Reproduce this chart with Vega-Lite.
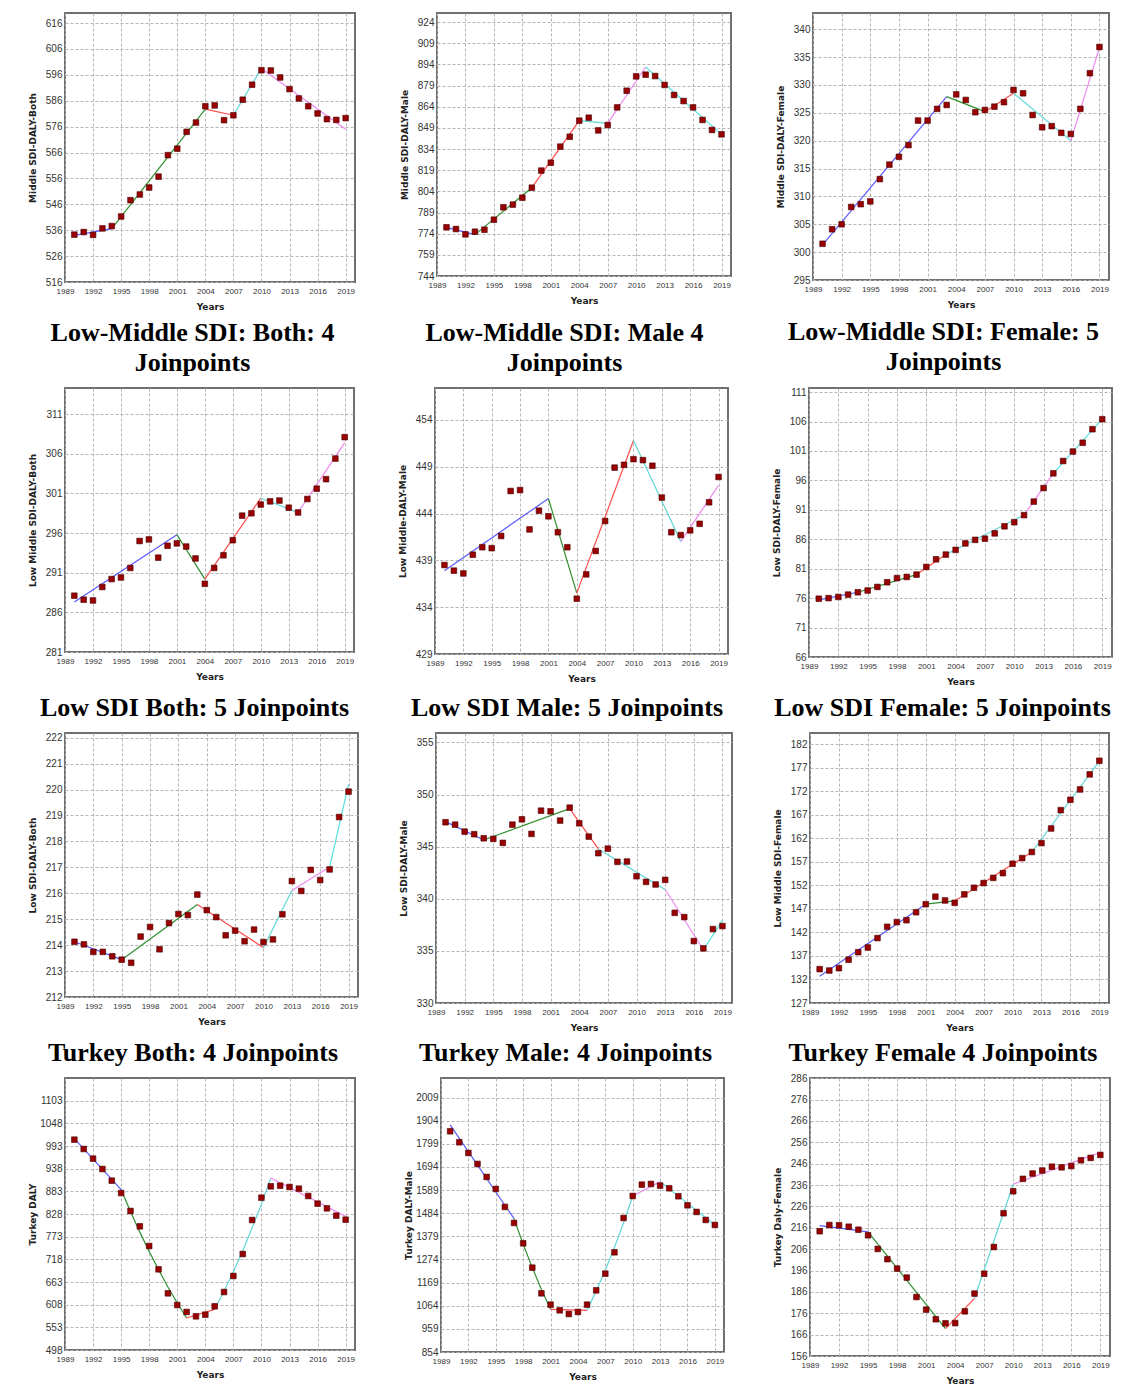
{
"$schema": "https://vega.github.io/schema/vega-lite/v6.json",
"background": "white",
"padding": {"left": 27, "top": 12, "right": 2, "bottom": 0},
"config": {
 "view": {"stroke": "#707070", "strokeWidth": 2},
 "axis": {"grid": true, "gridColor": "#b5b5b5", "gridDash": [3, 2], "gridWidth": 1, "domain": false, "ticks": false, "labelOverlap": false, "labelFlush": false,
  "labelFont": "Liberation Sans Narrow, Liberation Sans, sans-serif", "labelColor": "#333333",
  "titleFont": "DejaVu Sans", "titleFontWeight": "bold", "titleFontSize": 9, "titleColor": "#222222"},
 "axisX": {"labelFontSize": 8, "labelPadding": 5, "titlePadding": 7},
 "axisY": {"labelFontSize": 10, "labelPadding": 3, "minExtent": 24, "maxExtent": 24, "titlePadding": 4, "format": "d"},
 "title": {"font": "Liberation Serif", "fontSize": 26, "fontWeight": "bold", "color": "#000000", "anchor": "middle", "frame": "group", "dx": -17, "lineHeight": 30, "offset": 12}
},
"datasets": {
"pts": [
{"p":1,"year":1990,"v":534.3},{"p":1,"year":1991,"v":535.3},{"p":1,"year":1992,"v":534.2},{"p":1,"year":1993,"v":536.7},{"p":1,"year":1994,"v":537.6},{"p":1,"year":1995,"v":541.3},{"p":1,"year":1996,"v":547.6},{"p":1,"year":1997,"v":549.8},{"p":1,"year":1998,"v":552.5},{"p":1,"year":1999,"v":556.7},{"p":1,"year":2000,"v":565.0},{"p":1,"year":2001,"v":567.5},{"p":1,"year":2002,"v":574.0},{"p":1,"year":2003,"v":577.6},{"p":1,"year":2004,"v":583.9},{"p":1,"year":2005,"v":584.2},{"p":1,"year":2006,"v":578.5},{"p":1,"year":2007,"v":580.4},{"p":1,"year":2008,"v":586.4},{"p":1,"year":2009,"v":592.2},{"p":1,"year":2010,"v":597.8},{"p":1,"year":2011,"v":597.7},{"p":1,"year":2012,"v":595.0},{"p":1,"year":2013,"v":590.5},{"p":1,"year":2014,"v":586.9},{"p":1,"year":2015,"v":583.9},{"p":1,"year":2016,"v":581.1},{"p":1,"year":2017,"v":578.9},{"p":1,"year":2018,"v":578.6},{"p":1,"year":2019,"v":579.3},
{"p":2,"year":1990,"v":778.5},{"p":2,"year":1991,"v":777.3},{"p":2,"year":1992,"v":773.5},{"p":2,"year":1993,"v":775.4},{"p":2,"year":1994,"v":776.8},{"p":2,"year":1995,"v":783.9},{"p":2,"year":1996,"v":792.7},{"p":2,"year":1997,"v":794.6},{"p":2,"year":1998,"v":799.5},{"p":2,"year":1999,"v":806.6},{"p":2,"year":2000,"v":818.7},{"p":2,"year":2001,"v":824.3},{"p":2,"year":2002,"v":835.7},{"p":2,"year":2003,"v":842.7},{"p":2,"year":2004,"v":854.1},{"p":2,"year":2005,"v":856.2},{"p":2,"year":2006,"v":847.2},{"p":2,"year":2007,"v":851.0},{"p":2,"year":2008,"v":863.5},{"p":2,"year":2009,"v":875.3},{"p":2,"year":2010,"v":885.5},{"p":2,"year":2011,"v":886.7},{"p":2,"year":2012,"v":885.7},{"p":2,"year":2013,"v":879.4},{"p":2,"year":2014,"v":872.3},{"p":2,"year":2015,"v":868.0},{"p":2,"year":2016,"v":863.5},{"p":2,"year":2017,"v":854.6},{"p":2,"year":2018,"v":847.5},{"p":2,"year":2019,"v":844.4},
{"p":3,"year":1990,"v":301.5},{"p":3,"year":1991,"v":304.1},{"p":3,"year":1992,"v":305.0},{"p":3,"year":1993,"v":308.1},{"p":3,"year":1994,"v":308.6},{"p":3,"year":1995,"v":309.1},{"p":3,"year":1996,"v":313.1},{"p":3,"year":1997,"v":315.7},{"p":3,"year":1998,"v":317.1},{"p":3,"year":1999,"v":319.2},{"p":3,"year":2000,"v":323.6},{"p":3,"year":2001,"v":323.6},{"p":3,"year":2002,"v":325.7},{"p":3,"year":2003,"v":326.4},{"p":3,"year":2004,"v":328.3},{"p":3,"year":2005,"v":327.3},{"p":3,"year":2006,"v":325.1},{"p":3,"year":2007,"v":325.5},{"p":3,"year":2008,"v":326.1},{"p":3,"year":2009,"v":326.9},{"p":3,"year":2010,"v":329.1},{"p":3,"year":2011,"v":328.5},{"p":3,"year":2012,"v":324.6},{"p":3,"year":2013,"v":322.4},{"p":3,"year":2014,"v":322.6},{"p":3,"year":2015,"v":321.4},{"p":3,"year":2016,"v":321.2},{"p":3,"year":2017,"v":325.7},{"p":3,"year":2018,"v":332.1},{"p":3,"year":2019,"v":336.8},
{"p":4,"year":1990,"v":288.1},{"p":4,"year":1991,"v":287.6},{"p":4,"year":1992,"v":287.5},{"p":4,"year":1993,"v":289.2},{"p":4,"year":1994,"v":290.2},{"p":4,"year":1995,"v":290.4},{"p":4,"year":1996,"v":291.6},{"p":4,"year":1997,"v":295.0},{"p":4,"year":1998,"v":295.2},{"p":4,"year":1999,"v":292.9},{"p":4,"year":2000,"v":294.4},{"p":4,"year":2001,"v":294.7},{"p":4,"year":2002,"v":294.3},{"p":4,"year":2003,"v":292.8},{"p":4,"year":2004,"v":289.6},{"p":4,"year":2005,"v":291.6},{"p":4,"year":2006,"v":293.2},{"p":4,"year":2007,"v":295.1},{"p":4,"year":2008,"v":298.2},{"p":4,"year":2009,"v":298.5},{"p":4,"year":2010,"v":299.6},{"p":4,"year":2011,"v":300.0},{"p":4,"year":2012,"v":300.1},{"p":4,"year":2013,"v":299.2},{"p":4,"year":2014,"v":298.6},{"p":4,"year":2015,"v":300.3},{"p":4,"year":2016,"v":301.6},{"p":4,"year":2017,"v":302.8},{"p":4,"year":2018,"v":305.4},{"p":4,"year":2019,"v":308.1},
{"p":5,"year":1990,"v":438.5},{"p":5,"year":1991,"v":437.9},{"p":5,"year":1992,"v":437.6},{"p":5,"year":1993,"v":439.6},{"p":5,"year":1994,"v":440.4},{"p":5,"year":1995,"v":440.3},{"p":5,"year":1996,"v":441.6},{"p":5,"year":1997,"v":446.4},{"p":5,"year":1998,"v":446.5},{"p":5,"year":1999,"v":442.3},{"p":5,"year":2000,"v":444.3},{"p":5,"year":2001,"v":443.7},{"p":5,"year":2002,"v":442.0},{"p":5,"year":2003,"v":440.4},{"p":5,"year":2004,"v":434.9},{"p":5,"year":2005,"v":437.5},{"p":5,"year":2006,"v":440.0},{"p":5,"year":2007,"v":443.2},{"p":5,"year":2008,"v":448.9},{"p":5,"year":2009,"v":449.2},{"p":5,"year":2010,"v":449.8},{"p":5,"year":2011,"v":449.7},{"p":5,"year":2012,"v":449.1},{"p":5,"year":2013,"v":445.7},{"p":5,"year":2014,"v":442.0},{"p":5,"year":2015,"v":441.7},{"p":5,"year":2016,"v":442.2},{"p":5,"year":2017,"v":442.9},{"p":5,"year":2018,"v":445.2},{"p":5,"year":2019,"v":447.9},
{"p":6,"year":1990,"v":75.9},{"p":6,"year":1991,"v":76.0},{"p":6,"year":1992,"v":76.2},{"p":6,"year":1993,"v":76.6},{"p":6,"year":1994,"v":77.0},{"p":6,"year":1995,"v":77.3},{"p":6,"year":1996,"v":77.9},{"p":6,"year":1997,"v":78.7},{"p":6,"year":1998,"v":79.4},{"p":6,"year":1999,"v":79.6},{"p":6,"year":2000,"v":80.0},{"p":6,"year":2001,"v":81.3},{"p":6,"year":2002,"v":82.6},{"p":6,"year":2003,"v":83.4},{"p":6,"year":2004,"v":84.2},{"p":6,"year":2005,"v":85.3},{"p":6,"year":2006,"v":85.9},{"p":6,"year":2007,"v":86.1},{"p":6,"year":2008,"v":87.0},{"p":6,"year":2009,"v":88.2},{"p":6,"year":2010,"v":88.9},{"p":6,"year":2011,"v":90.1},{"p":6,"year":2012,"v":92.4},{"p":6,"year":2013,"v":94.7},{"p":6,"year":2014,"v":97.2},{"p":6,"year":2015,"v":99.3},{"p":6,"year":2016,"v":100.9},{"p":6,"year":2017,"v":102.4},{"p":6,"year":2018,"v":104.7},{"p":6,"year":2019,"v":106.4},
{"p":7,"year":1990,"v":214.13},{"p":7,"year":1991,"v":214.03},{"p":7,"year":1992,"v":213.74},{"p":7,"year":1993,"v":213.74},{"p":7,"year":1994,"v":213.57},{"p":7,"year":1995,"v":213.44},{"p":7,"year":1996,"v":213.32},{"p":7,"year":1997,"v":214.33},{"p":7,"year":1998,"v":214.70},{"p":7,"year":1999,"v":213.84},{"p":7,"year":2000,"v":214.85},{"p":7,"year":2001,"v":215.20},{"p":7,"year":2002,"v":215.16},{"p":7,"year":2003,"v":215.95},{"p":7,"year":2004,"v":215.35},{"p":7,"year":2005,"v":215.08},{"p":7,"year":2006,"v":214.38},{"p":7,"year":2007,"v":214.56},{"p":7,"year":2008,"v":214.15},{"p":7,"year":2009,"v":214.60},{"p":7,"year":2010,"v":214.12},{"p":7,"year":2011,"v":214.22},{"p":7,"year":2012,"v":215.19},{"p":7,"year":2013,"v":216.47},{"p":7,"year":2014,"v":216.09},{"p":7,"year":2015,"v":216.90},{"p":7,"year":2016,"v":216.51},{"p":7,"year":2017,"v":216.92},{"p":7,"year":2018,"v":218.94},{"p":7,"year":2019,"v":219.92},
{"p":8,"year":1990,"v":347.34},{"p":8,"year":1991,"v":347.11},{"p":8,"year":1992,"v":346.44},{"p":8,"year":1993,"v":346.19},{"p":8,"year":1994,"v":345.80},{"p":8,"year":1995,"v":345.74},{"p":8,"year":1996,"v":345.36},{"p":8,"year":1997,"v":347.11},{"p":8,"year":1998,"v":347.62},{"p":8,"year":1999,"v":346.22},{"p":8,"year":2000,"v":348.45},{"p":8,"year":2001,"v":348.39},{"p":8,"year":2002,"v":347.50},{"p":8,"year":2003,"v":348.74},{"p":8,"year":2004,"v":347.24},{"p":8,"year":2005,"v":345.96},{"p":8,"year":2006,"v":344.37},{"p":8,"year":2007,"v":344.81},{"p":8,"year":2008,"v":343.54},{"p":8,"year":2009,"v":343.57},{"p":8,"year":2010,"v":342.16},{"p":8,"year":2011,"v":341.62},{"p":8,"year":2012,"v":341.37},{"p":8,"year":2013,"v":341.81},{"p":8,"year":2014,"v":338.65},{"p":8,"year":2015,"v":338.24},{"p":8,"year":2016,"v":335.94},{"p":8,"year":2017,"v":335.24},{"p":8,"year":2018,"v":337.09},{"p":8,"year":2019,"v":337.38},
{"p":9,"year":1990,"v":134.2},{"p":9,"year":1991,"v":133.9},{"p":9,"year":1992,"v":134.4},{"p":9,"year":1993,"v":136.2},{"p":9,"year":1994,"v":137.8},{"p":9,"year":1995,"v":138.8},{"p":9,"year":1996,"v":140.8},{"p":9,"year":1997,"v":143.2},{"p":9,"year":1998,"v":144.2},{"p":9,"year":1999,"v":144.6},{"p":9,"year":2000,"v":146.3},{"p":9,"year":2001,"v":148.0},{"p":9,"year":2002,"v":149.6},{"p":9,"year":2003,"v":148.8},{"p":9,"year":2004,"v":148.3},{"p":9,"year":2005,"v":150.1},{"p":9,"year":2006,"v":151.5},{"p":9,"year":2007,"v":152.5},{"p":9,"year":2008,"v":153.6},{"p":9,"year":2009,"v":154.6},{"p":9,"year":2010,"v":156.6},{"p":9,"year":2011,"v":157.8},{"p":9,"year":2012,"v":159.1},{"p":9,"year":2013,"v":161.0},{"p":9,"year":2014,"v":164.1},{"p":9,"year":2015,"v":168.0},{"p":9,"year":2016,"v":170.2},{"p":9,"year":2017,"v":172.4},{"p":9,"year":2018,"v":175.6},{"p":9,"year":2019,"v":178.5},
{"p":10,"year":1990,"v":1008.4},{"p":10,"year":1991,"v":985.7},{"p":10,"year":1992,"v":962.3},{"p":10,"year":1993,"v":937.2},{"p":10,"year":1994,"v":908.9},{"p":10,"year":1995,"v":878.9},{"p":10,"year":1996,"v":835.3},{"p":10,"year":1997,"v":798.1},{"p":10,"year":1998,"v":750.3},{"p":10,"year":1999,"v":693.7},{"p":10,"year":2000,"v":635.5},{"p":10,"year":2001,"v":607.2},{"p":10,"year":2002,"v":590.2},{"p":10,"year":2003,"v":579.7},{"p":10,"year":2004,"v":583.7},{"p":10,"year":2005,"v":604.0},{"p":10,"year":2006,"v":638.7},{"p":10,"year":2007,"v":677.6},{"p":10,"year":2008,"v":730.9},{"p":10,"year":2009,"v":813.4},{"p":10,"year":2010,"v":867.6},{"p":10,"year":2011,"v":895.1},{"p":10,"year":2012,"v":896.7},{"p":10,"year":2013,"v":893.5},{"p":10,"year":2014,"v":889.5},{"p":10,"year":2015,"v":871.7},{"p":10,"year":2016,"v":853.1},{"p":10,"year":2017,"v":841.7},{"p":10,"year":2018,"v":824.0},{"p":10,"year":2019,"v":814.2},
{"p":11,"year":1990,"v":1856.1},{"p":11,"year":1991,"v":1806.2},{"p":11,"year":1992,"v":1757.7},{"p":11,"year":1993,"v":1707.8},{"p":11,"year":1994,"v":1648.7},{"p":11,"year":1995,"v":1594.2},{"p":11,"year":1996,"v":1512.5},{"p":11,"year":1997,"v":1439.8},{"p":11,"year":1998,"v":1347.5},{"p":11,"year":1999,"v":1237.0},{"p":11,"year":2000,"v":1120.4},{"p":11,"year":2001,"v":1069.0},{"p":11,"year":2002,"v":1043.2},{"p":11,"year":2003,"v":1026.6},{"p":11,"year":2004,"v":1035.7},{"p":11,"year":2005,"v":1069.0},{"p":11,"year":2006,"v":1134.0},{"p":11,"year":2007,"v":1209.7},{"p":11,"year":2008,"v":1306.6},{"p":11,"year":2009,"v":1462.5},{"p":11,"year":2010,"v":1562.4},{"p":11,"year":2011,"v":1613.9},{"p":11,"year":2012,"v":1616.9},{"p":11,"year":2013,"v":1609.4},{"p":11,"year":2014,"v":1597.3},{"p":11,"year":2015,"v":1561.0},{"p":11,"year":2016,"v":1520.1},{"p":11,"year":2017,"v":1489.8},{"p":11,"year":2018,"v":1453.5},{"p":11,"year":2019,"v":1430.7},
{"p":12,"year":1990,"v":214.4},{"p":12,"year":1991,"v":217.3},{"p":12,"year":1992,"v":217.2},{"p":12,"year":1993,"v":216.5},{"p":12,"year":1994,"v":215.1},{"p":12,"year":1995,"v":212.5},{"p":12,"year":1996,"v":206.1},{"p":12,"year":1997,"v":201.3},{"p":12,"year":1998,"v":196.9},{"p":12,"year":1999,"v":192.7},{"p":12,"year":2000,"v":183.6},{"p":12,"year":2001,"v":177.7},{"p":12,"year":2002,"v":173.2},{"p":12,"year":2003,"v":171.3},{"p":12,"year":2004,"v":171.4},{"p":12,"year":2005,"v":176.9},{"p":12,"year":2006,"v":185.2},{"p":12,"year":2007,"v":194.5},{"p":12,"year":2008,"v":207.0},{"p":12,"year":2009,"v":222.8},{"p":12,"year":2010,"v":233.1},{"p":12,"year":2011,"v":238.9},{"p":12,"year":2012,"v":241.4},{"p":12,"year":2013,"v":242.8},{"p":12,"year":2014,"v":244.6},{"p":12,"year":2015,"v":244.3},{"p":12,"year":2016,"v":244.9},{"p":12,"year":2017,"v":247.6},{"p":12,"year":2018,"v":248.7},{"p":12,"year":2019,"v":250.1}
],
"fit": [
{"p":1,"s":1,"year":1990,"v":534.0},{"p":1,"s":1,"year":1994,"v":536.6},{"p":1,"s":2,"year":1994,"v":536.6},{"p":1,"s":2,"year":2004,"v":582.8},{"p":1,"s":3,"year":2004,"v":582.8},{"p":1,"s":3,"year":2007,"v":580.4},{"p":1,"s":4,"year":2007,"v":580.4},{"p":1,"s":4,"year":2010,"v":598.5},{"p":1,"s":5,"year":2010,"v":598.5},{"p":1,"s":5,"year":2019,"v":575.0},
{"p":2,"s":1,"year":1990,"v":778.5},{"p":2,"s":1,"year":1993,"v":773.3},{"p":2,"s":2,"year":1993,"v":773.3},{"p":2,"s":2,"year":1999,"v":806.6},{"p":2,"s":3,"year":1999,"v":806.6},{"p":2,"s":3,"year":2004,"v":854.1},{"p":2,"s":4,"year":2004,"v":854.1},{"p":2,"s":4,"year":2007,"v":852.2},{"p":2,"s":5,"year":2007,"v":852.2},{"p":2,"s":5,"year":2011,"v":892.1},{"p":2,"s":6,"year":2011,"v":892.1},{"p":2,"s":6,"year":2019,"v":844.4},
{"p":3,"s":1,"year":1990,"v":301.3},{"p":3,"s":1,"year":2003,"v":327.9},{"p":3,"s":2,"year":2003,"v":327.9},{"p":3,"s":2,"year":2007,"v":325.2},{"p":3,"s":3,"year":2007,"v":325.2},{"p":3,"s":3,"year":2010,"v":328.5},{"p":3,"s":4,"year":2010,"v":328.5},{"p":3,"s":4,"year":2016,"v":320.0},{"p":3,"s":5,"year":2016,"v":320.0},{"p":3,"s":5,"year":2019,"v":336.7},
{"p":4,"s":1,"year":1990,"v":287.3},{"p":4,"s":1,"year":2001,"v":295.8},{"p":4,"s":2,"year":2001,"v":295.8},{"p":4,"s":2,"year":2004,"v":290.2},{"p":4,"s":3,"year":2004,"v":290.2},{"p":4,"s":3,"year":2010,"v":300.4},{"p":4,"s":4,"year":2010,"v":300.4},{"p":4,"s":4,"year":2014,"v":298.6},{"p":4,"s":5,"year":2014,"v":298.6},{"p":4,"s":5,"year":2019,"v":307.4},
{"p":5,"s":1,"year":1990,"v":437.9},{"p":5,"s":1,"year":2001,"v":445.6},{"p":5,"s":2,"year":2001,"v":445.6},{"p":5,"s":2,"year":2004,"v":435.5},{"p":5,"s":3,"year":2004,"v":435.5},{"p":5,"s":3,"year":2010,"v":451.8},{"p":5,"s":4,"year":2010,"v":451.8},{"p":5,"s":4,"year":2015,"v":441.0},{"p":5,"s":5,"year":2015,"v":441.0},{"p":5,"s":5,"year":2019,"v":447.0},
{"p":6,"s":1,"year":1990,"v":75.7},{"p":6,"s":1,"year":1994,"v":77.0},{"p":6,"s":2,"year":1994,"v":77.0},{"p":6,"s":2,"year":2000,"v":80.0},{"p":6,"s":3,"year":2000,"v":80.0},{"p":6,"s":3,"year":2003,"v":83.4},{"p":6,"s":4,"year":2003,"v":83.4},{"p":6,"s":4,"year":2011,"v":90.1},{"p":6,"s":5,"year":2011,"v":90.1},{"p":6,"s":5,"year":2014,"v":97.2},{"p":6,"s":6,"year":2014,"v":97.2},{"p":6,"s":6,"year":2019,"v":106.4},
{"p":7,"s":1,"year":1990,"v":214.13},{"p":7,"s":1,"year":1995,"v":213.44},{"p":7,"s":2,"year":1995,"v":213.44},{"p":7,"s":2,"year":2003,"v":215.57},{"p":7,"s":3,"year":2003,"v":215.57},{"p":7,"s":3,"year":2010,"v":213.90},{"p":7,"s":4,"year":2010,"v":213.90},{"p":7,"s":4,"year":2013,"v":216.11},{"p":7,"s":5,"year":2013,"v":216.11},{"p":7,"s":5,"year":2017,"v":217.01},{"p":7,"s":6,"year":2017,"v":217.01},{"p":7,"s":6,"year":2019,"v":220.20},
{"p":8,"s":1,"year":1990,"v":347.40},{"p":8,"s":1,"year":1994,"v":345.64},{"p":8,"s":2,"year":1994,"v":345.64},{"p":8,"s":2,"year":2003,"v":348.65},{"p":8,"s":3,"year":2003,"v":348.65},{"p":8,"s":3,"year":2006,"v":344.78},{"p":8,"s":4,"year":2006,"v":344.78},{"p":8,"s":4,"year":2013,"v":340.89},{"p":8,"s":5,"year":2013,"v":340.89},{"p":8,"s":5,"year":2017,"v":335.11},{"p":8,"s":6,"year":2017,"v":335.11},{"p":8,"s":6,"year":2019,"v":337.92},
{"p":9,"s":1,"year":1990,"v":132.7},{"p":9,"s":1,"year":2001,"v":148.0},{"p":9,"s":2,"year":2001,"v":148.0},{"p":9,"s":2,"year":2004,"v":148.7},{"p":9,"s":3,"year":2004,"v":148.7},{"p":9,"s":3,"year":2012,"v":159.1},{"p":9,"s":4,"year":2012,"v":159.1},{"p":9,"s":4,"year":2019,"v":178.4},
{"p":10,"s":1,"year":1990,"v":1010.8},{"p":10,"s":1,"year":1995,"v":887.0},{"p":10,"s":2,"year":1995,"v":887.0},{"p":10,"s":2,"year":1996,"v":834},{"p":10,"s":2,"year":1997,"v":784},{"p":10,"s":2,"year":1998,"v":737},{"p":10,"s":2,"year":1999,"v":693},{"p":10,"s":2,"year":2000,"v":651},{"p":10,"s":2,"year":2001,"v":612},{"p":10,"s":2,"year":2002,"v":575.6},{"p":10,"s":3,"year":2002,"v":575.6},{"p":10,"s":3,"year":2005,"v":596.7},{"p":10,"s":4,"year":2005,"v":596.7},{"p":10,"s":4,"year":2006,"v":641},{"p":10,"s":4,"year":2007,"v":688},{"p":10,"s":4,"year":2008,"v":739},{"p":10,"s":4,"year":2009,"v":794},{"p":10,"s":4,"year":2010,"v":852},{"p":10,"s":4,"year":2011,"v":915.3},{"p":10,"s":5,"year":2011,"v":915.3},{"p":10,"s":5,"year":2019,"v":822.3},
{"p":11,"s":1,"year":1990,"v":1884.9},{"p":11,"s":1,"year":1997,"v":1459.5},{"p":11,"s":2,"year":1997,"v":1459.5},{"p":11,"s":2,"year":1998,"v":1343},{"p":11,"s":2,"year":1999,"v":1237},{"p":11,"s":2,"year":2000,"v":1138},{"p":11,"s":2,"year":2001,"v":1047.8},{"p":11,"s":3,"year":2001,"v":1047.8},{"p":11,"s":3,"year":2005,"v":1043.2},{"p":11,"s":4,"year":2005,"v":1043.2},{"p":11,"s":4,"year":2006,"v":1131},{"p":11,"s":4,"year":2007,"v":1226},{"p":11,"s":4,"year":2008,"v":1329},{"p":11,"s":4,"year":2009,"v":1441},{"p":11,"s":4,"year":2010,"v":1562.4},{"p":11,"s":5,"year":2010,"v":1562.4},{"p":11,"s":5,"year":2013,"v":1627.5},{"p":11,"s":6,"year":2013,"v":1627.5},{"p":11,"s":6,"year":2019,"v":1430.7},
{"p":12,"s":1,"year":1990,"v":217.0},{"p":12,"s":1,"year":1995,"v":214.1},{"p":12,"s":2,"year":1995,"v":214.1},{"p":12,"s":2,"year":2003,"v":168.8},{"p":12,"s":3,"year":2003,"v":168.8},{"p":12,"s":3,"year":2006,"v":183.0},{"p":12,"s":4,"year":2006,"v":183.0},{"p":12,"s":4,"year":2010,"v":236.4},{"p":12,"s":5,"year":2010,"v":236.4},{"p":12,"s":5,"year":2019,"v":251.3}
]
},
"spacing": 6,
"vconcat": [
{"spacing": 82, "bounds": "flush", "hconcat": [
 {"width": 290, "height": 269,
  "encoding": {"x": {"field": "year", "type": "quantitative", "scale": {"domain": [1989, 2020], "nice": false, "zero": false}, "axis": {"values": [1989,1992,1995,1998,2001,2004,2007,2010,2013,2016,2019], "format": "d", "title": "Years"}},
   "y": {"field": "v", "type": "quantitative", "scale": {"domain": [516, 619.9], "nice": false, "zero": false}, "axis": {"values": [516,526,536,546,556,566,576,586,596,606,616], "title": "Middle SDI-DALY-Both"}}},
  "layer": [
   {"data": {"name": "fit"}, "transform": [{"filter": "datum.p == 1"}], "mark": {"type": "line", "strokeWidth": 1.2}, "encoding": {"color": {"field": "s", "type": "nominal", "scale": {"domain": [1,2,3,4,5,6], "range": ["#5a5aff","#2f8f2f","#ff4d4d","#5fd6d6","#ee88ee","#55e0e0"]}, "legend": null}}},
   {"data": {"name": "pts"}, "transform": [{"filter": "datum.p == 1"}], "mark": {"type": "square", "size": 32, "color": "#990000", "opacity": 1, "stroke": "#4a0000", "strokeWidth": 0.6}}
  ]},
 {"width": 294, "height": 263,
  "encoding": {"x": {"field": "year", "type": "quantitative", "scale": {"domain": [1989, 2020], "nice": false, "zero": false}, "axis": {"values": [1989,1992,1995,1998,2001,2004,2007,2010,2013,2016,2019], "format": "d", "title": "Years"}},
   "y": {"field": "v", "type": "quantitative", "scale": {"domain": [744, 930.4], "nice": false, "zero": false}, "axis": {"values": [744,759,774,789,804,819,834,849,864,879,894,909,924], "title": "Middle SDI-DALY-Male"}}},
  "layer": [
   {"data": {"name": "fit"}, "transform": [{"filter": "datum.p == 2"}], "mark": {"type": "line", "strokeWidth": 1.2}, "encoding": {"color": {"field": "s", "type": "nominal", "scale": {"domain": [1,2,3,4,5,6], "range": ["#5a5aff","#2f8f2f","#ff4d4d","#5fd6d6","#ee88ee","#55e0e0"]}, "legend": null}}},
   {"data": {"name": "pts"}, "transform": [{"filter": "datum.p == 2"}], "mark": {"type": "square", "size": 32, "color": "#990000", "opacity": 1, "stroke": "#4a0000", "strokeWidth": 0.6}}
  ]},
 {"width": 296, "height": 267,
  "encoding": {"x": {"field": "year", "type": "quantitative", "scale": {"domain": [1989, 2020], "nice": false, "zero": false}, "axis": {"values": [1989,1992,1995,1998,2001,2004,2007,2010,2013,2016,2019], "format": "d", "title": "Years"}},
   "y": {"field": "v", "type": "quantitative", "scale": {"domain": [295, 342.9], "nice": false, "zero": false}, "axis": {"values": [295,300,305,310,315,320,325,330,335,340], "title": "Middle SDI-DALY-Female"}}},
  "layer": [
   {"data": {"name": "fit"}, "transform": [{"filter": "datum.p == 3"}], "mark": {"type": "line", "strokeWidth": 1.2}, "encoding": {"color": {"field": "s", "type": "nominal", "scale": {"domain": [1,2,3,4,5,6], "range": ["#5a5aff","#2f8f2f","#ff4d4d","#5fd6d6","#ee88ee","#55e0e0"]}, "legend": null}}},
   {"data": {"name": "pts"}, "transform": [{"filter": "datum.p == 3"}], "mark": {"type": "square", "size": 32, "color": "#990000", "opacity": 1, "stroke": "#4a0000", "strokeWidth": 0.6}}
  ]}
]},
{"spacing": 81, "bounds": "flush", "hconcat": [
 {"width": 289, "height": 264, "title": {"text": ["Low-Middle SDI: Both: 4", "Joinpoints"]},
  "encoding": {"x": {"field": "year", "type": "quantitative", "scale": {"domain": [1989, 2020], "nice": false, "zero": false}, "axis": {"values": [1989,1992,1995,1998,2001,2004,2007,2010,2013,2016,2019], "format": "d", "title": "Years"}},
   "y": {"field": "v", "type": "quantitative", "scale": {"domain": [281, 314.3], "nice": false, "zero": false}, "axis": {"values": [281,286,291,296,301,306,311], "title": "Low Middle SDI-DALY-Both"}}},
  "layer": [
   {"data": {"name": "fit"}, "transform": [{"filter": "datum.p == 4"}], "mark": {"type": "line", "strokeWidth": 1.2}, "encoding": {"color": {"field": "s", "type": "nominal", "scale": {"domain": [1,2,3,4,5,6], "range": ["#5a5aff","#2f8f2f","#ff4d4d","#5fd6d6","#ee88ee","#55e0e0"]}, "legend": null}}},
   {"data": {"name": "pts"}, "transform": [{"filter": "datum.p == 4"}], "mark": {"type": "square", "size": 32, "color": "#990000", "opacity": 1, "stroke": "#4a0000", "strokeWidth": 0.6}}
  ]},
 {"width": 293, "height": 266, "title": {"text": ["Low-Middle SDI: Male 4", "Joinpoints"]},
  "encoding": {"x": {"field": "year", "type": "quantitative", "scale": {"domain": [1989, 2020], "nice": false, "zero": false}, "axis": {"values": [1989,1992,1995,1998,2001,2004,2007,2010,2013,2016,2019], "format": "d", "title": "Years"}},
   "y": {"field": "v", "type": "quantitative", "scale": {"domain": [429, 457.4], "nice": false, "zero": false}, "axis": {"values": [429,434,439,444,449,454], "title": "Low Middle-DALY-Male"}}},
  "layer": [
   {"data": {"name": "fit"}, "transform": [{"filter": "datum.p == 5"}], "mark": {"type": "line", "strokeWidth": 1.2}, "encoding": {"color": {"field": "s", "type": "nominal", "scale": {"domain": [1,2,3,4,5,6], "range": ["#5a5aff","#2f8f2f","#ff4d4d","#5fd6d6","#ee88ee","#55e0e0"]}, "legend": null}}},
   {"data": {"name": "pts"}, "transform": [{"filter": "datum.p == 5"}], "mark": {"type": "square", "size": 32, "color": "#990000", "opacity": 1, "stroke": "#4a0000", "strokeWidth": 0.6}}
  ]},
 {"width": 303, "height": 269, "title": {"text": ["Low-Middle SDI: Female: 5", "Joinpoints"]},
  "encoding": {"x": {"field": "year", "type": "quantitative", "scale": {"domain": [1989, 2020], "nice": false, "zero": false}, "axis": {"values": [1989,1992,1995,1998,2001,2004,2007,2010,2013,2016,2019], "format": "d", "title": "Years"}},
   "y": {"field": "v", "type": "quantitative", "scale": {"domain": [66, 111.7], "nice": false, "zero": false}, "axis": {"values": [66,71,76,81,86,91,96,101,106,111], "title": "Low SDI-DALY-Female"}}},
  "layer": [
   {"data": {"name": "fit"}, "transform": [{"filter": "datum.p == 6"}], "mark": {"type": "line", "strokeWidth": 1.2}, "encoding": {"color": {"field": "s", "type": "nominal", "scale": {"domain": [1,2,3,4,5,6], "range": ["#5a5aff","#2f8f2f","#ff4d4d","#5fd6d6","#ee88ee","#55e0e0"]}, "legend": null}}},
   {"data": {"name": "pts"}, "transform": [{"filter": "datum.p == 6"}], "mark": {"type": "square", "size": 32, "color": "#990000", "opacity": 1, "stroke": "#4a0000", "strokeWidth": 0.6}}
  ]}
]},
{"spacing": 78, "bounds": "flush", "hconcat": [
 {"width": 293, "height": 264, "title": {"text": "Low SDI Both: 5 Joinpoints"},
  "encoding": {"x": {"field": "year", "type": "quantitative", "scale": {"domain": [1989, 2020], "nice": false, "zero": false}, "axis": {"values": [1989,1992,1995,1998,2001,2004,2007,2010,2013,2016,2019], "format": "d", "title": "Years"}},
   "y": {"field": "v", "type": "quantitative", "scale": {"domain": [212, 222.18], "nice": false, "zero": false}, "axis": {"values": [212,213,214,215,216,217,218,219,220,221,222], "title": "Low SDI-DALY-Both"}}},
  "layer": [
   {"data": {"name": "fit"}, "transform": [{"filter": "datum.p == 7"}], "mark": {"type": "line", "strokeWidth": 1.2}, "encoding": {"color": {"field": "s", "type": "nominal", "scale": {"domain": [1,2,3,4,5,6], "range": ["#5a5aff","#2f8f2f","#ff4d4d","#5fd6d6","#ee88ee","#55e0e0"]}, "legend": null}}},
   {"data": {"name": "pts"}, "transform": [{"filter": "datum.p == 7"}], "mark": {"type": "square", "size": 32, "color": "#990000", "opacity": 1, "stroke": "#4a0000", "strokeWidth": 0.6}}
  ]},
 {"width": 296, "height": 270, "title": {"text": "Low SDI Male: 5 Joinpoints"},
  "encoding": {"x": {"field": "year", "type": "quantitative", "scale": {"domain": [1989, 2020], "nice": false, "zero": false}, "axis": {"values": [1989,1992,1995,1998,2001,2004,2007,2010,2013,2016,2019], "format": "d", "title": "Years"}},
   "y": {"field": "v", "type": "quantitative", "scale": {"domain": [330, 355.9], "nice": false, "zero": false}, "axis": {"values": [330,335,340,345,350,355], "title": "Low SDI-DALY-Male"}}},
  "layer": [
   {"data": {"name": "fit"}, "transform": [{"filter": "datum.p == 8"}], "mark": {"type": "line", "strokeWidth": 1.2}, "encoding": {"color": {"field": "s", "type": "nominal", "scale": {"domain": [1,2,3,4,5,6], "range": ["#5a5aff","#2f8f2f","#ff4d4d","#5fd6d6","#ee88ee","#55e0e0"]}, "legend": null}}},
   {"data": {"name": "pts"}, "transform": [{"filter": "datum.p == 8"}], "mark": {"type": "square", "size": 32, "color": "#990000", "opacity": 1, "stroke": "#4a0000", "strokeWidth": 0.6}}
  ]},
 {"width": 299, "height": 270, "title": {"text": "Low SDI Female: 5 Joinpoints"},
  "encoding": {"x": {"field": "year", "type": "quantitative", "scale": {"domain": [1989, 2020], "nice": false, "zero": false}, "axis": {"values": [1989,1992,1995,1998,2001,2004,2007,2010,2013,2016,2019], "format": "d", "title": "Years"}},
   "y": {"field": "v", "type": "quantitative", "scale": {"domain": [127, 184.4], "nice": false, "zero": false}, "axis": {"values": [127,132,137,142,147,152,157,162,167,172,177,182], "title": "Low Middle SDI-Female"}}},
  "layer": [
   {"data": {"name": "fit"}, "transform": [{"filter": "datum.p == 9"}], "mark": {"type": "line", "strokeWidth": 1.2}, "encoding": {"color": {"field": "s", "type": "nominal", "scale": {"domain": [1,2,3,4,5,6], "range": ["#5a5aff","#2f8f2f","#ff4d4d","#5fd6d6","#ee88ee","#55e0e0"]}, "legend": null}}},
   {"data": {"name": "pts"}, "transform": [{"filter": "datum.p == 9"}], "mark": {"type": "square", "size": 32, "color": "#990000", "opacity": 1, "stroke": "#4a0000", "strokeWidth": 0.6}}
  ]}
]},
{"spacing": 86, "bounds": "flush", "hconcat": [
 {"width": 290, "height": 272, "title": {"text": "Turkey Both: 4 Joinpoints"},
  "encoding": {"x": {"field": "year", "type": "quantitative", "scale": {"domain": [1989, 2020], "nice": false, "zero": false}, "axis": {"values": [1989,1992,1995,1998,2001,2004,2007,2010,2013,2016,2019], "format": "d", "title": "Years"}},
   "y": {"field": "v", "type": "quantitative", "scale": {"domain": [498, 1158], "nice": false, "zero": false}, "axis": {"values": [498,553,608,663,718,773,828,883,938,993,1048,1103], "title": "Turkey DALY"}}},
  "layer": [
   {"data": {"name": "fit"}, "transform": [{"filter": "datum.p == 10"}], "mark": {"type": "line", "strokeWidth": 1.2}, "encoding": {"color": {"field": "s", "type": "nominal", "scale": {"domain": [1,2,3,4,5,6], "range": ["#5a5aff","#2f8f2f","#ff4d4d","#5fd6d6","#ee88ee","#55e0e0"]}, "legend": null}}},
   {"data": {"name": "pts"}, "transform": [{"filter": "datum.p == 10"}], "mark": {"type": "square", "size": 32, "color": "#990000", "opacity": 1, "stroke": "#4a0000", "strokeWidth": 0.6}}
  ]},
 {"width": 283, "height": 274, "title": {"text": "Turkey Male: 4 Joinpoints"},
  "encoding": {"x": {"field": "year", "type": "quantitative", "scale": {"domain": [1989, 2020], "nice": false, "zero": false}, "axis": {"values": [1989,1992,1995,1998,2001,2004,2007,2010,2013,2016,2019], "format": "d", "title": "Years"}},
   "y": {"field": "v", "type": "quantitative", "scale": {"domain": [854, 2098], "nice": false, "zero": false}, "axis": {"values": [854,959,1064,1169,1274,1379,1484,1589,1694,1799,1904,2009], "title": "Turkey DALY-Male"}}},
  "layer": [
   {"data": {"name": "fit"}, "transform": [{"filter": "datum.p == 11"}], "mark": {"type": "line", "strokeWidth": 1.2}, "encoding": {"color": {"field": "s", "type": "nominal", "scale": {"domain": [1,2,3,4,5,6], "range": ["#5a5aff","#2f8f2f","#ff4d4d","#5fd6d6","#ee88ee","#55e0e0"]}, "legend": null}}},
   {"data": {"name": "pts"}, "transform": [{"filter": "datum.p == 11"}], "mark": {"type": "square", "size": 32, "color": "#990000", "opacity": 1, "stroke": "#4a0000", "strokeWidth": 0.6}}
  ]},
 {"width": 300, "height": 278, "title": {"text": "Turkey Female 4 Joinpoints", "offset": 7},
  "encoding": {"x": {"field": "year", "type": "quantitative", "scale": {"domain": [1989, 2020], "nice": false, "zero": false}, "axis": {"values": [1989,1992,1995,1998,2001,2004,2007,2010,2013,2016,2019], "format": "d", "title": "Years"}},
   "y": {"field": "v", "type": "quantitative", "scale": {"domain": [156, 286.1], "nice": false, "zero": false}, "axis": {"values": [156,166,176,186,196,206,216,226,236,246,256,266,276,286], "title": "Turkey Daly-Female"}}},
  "layer": [
   {"data": {"name": "fit"}, "transform": [{"filter": "datum.p == 12"}], "mark": {"type": "line", "strokeWidth": 1.2}, "encoding": {"color": {"field": "s", "type": "nominal", "scale": {"domain": [1,2,3,4,5,6], "range": ["#5a5aff","#2f8f2f","#ff4d4d","#5fd6d6","#ee88ee","#55e0e0"]}, "legend": null}}},
   {"data": {"name": "pts"}, "transform": [{"filter": "datum.p == 12"}], "mark": {"type": "square", "size": 32, "color": "#990000", "opacity": 1, "stroke": "#4a0000", "strokeWidth": 0.6}}
  ]}
]}
]
}
